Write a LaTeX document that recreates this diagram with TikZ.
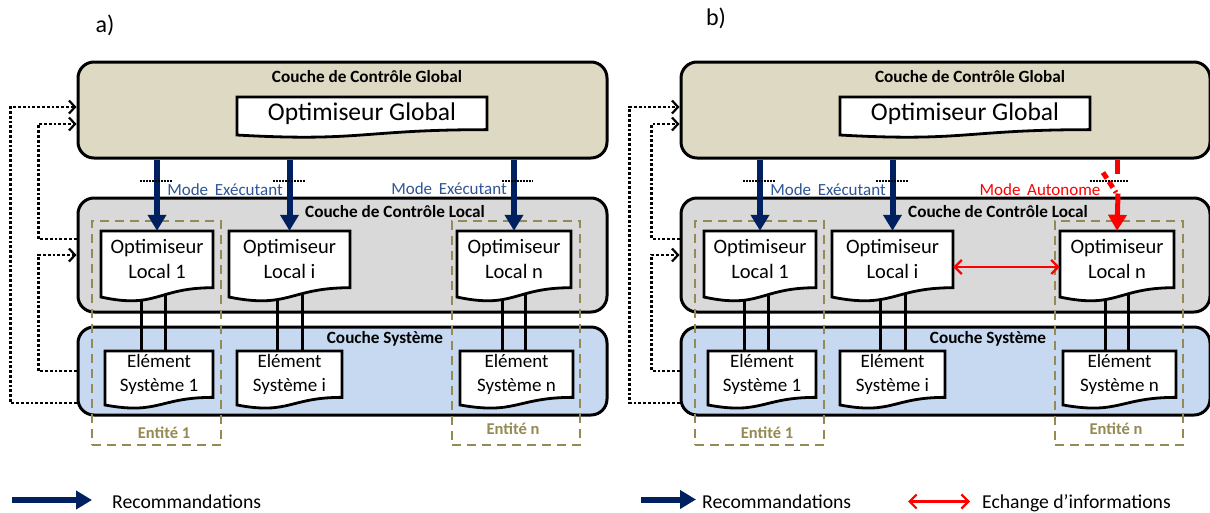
\documentclass[tikz,border=0pt]{standalone}
\usepackage{fontspec}
\setmainfont{Carlito}
\usetikzlibrary{arrows.meta,calc}
\definecolor{tanfill}{HTML}{DDD9C3}
\definecolor{grayfill}{HTML}{D9D9D9}
\definecolor{bluefill}{HTML}{C6D9F1}
\definecolor{navy}{HTML}{002060}
\definecolor{modeblue}{HTML}{2E5597}
\definecolor{olivec}{HTML}{948A54}
\pgfdeclarelayer{back}
\pgfdeclarelayer{mid}
\pgfsetlayers{back,mid,main}
\tikzset{
  layerbox/.style={draw, line width=3pt, rounded corners=16pt, minimum width=529pt, inner sep=0pt},
  ltitle/.style={font=\fontsize{17.2}{20}\selectfont\bfseries, inner sep=0pt, anchor=base},
  docshape/.style={draw, fill=white, line width=2.8pt, line join=miter},
  doctext/.style={inner sep=0pt, align=center},
  locfont/.style={font=\fontsize{20.5}{25}\selectfont},
  elfont/.style={font=\fontsize{19}{24}\selectfont},
  glfont/.style={font=\fontsize{25.5}{30}\selectfont},
  rec/.style={navy, line width=6pt, -{Triangle[length=16pt,width=18pt]}},
  fb/.style={line width=2.8pt, dash pattern=on 2.8pt off 2pt, -{Straight Barb[length=6pt,width=13pt,line width=2.2pt]}},
  ent/.style={draw=olivec, line width=2.5pt, dash pattern=on 9pt off 6pt, inner sep=0pt},
  entlabel/.style={text=olivec, font=\fontsize{16.5}{19}\selectfont\bfseries, inner sep=0pt, anchor=base},
  modelabel/.style={text=modeblue, font=\fontsize{17}{20}\selectfont, inner sep=0pt, anchor=base},
  shortdot/.style={line width=1.5pt, dash pattern=on 1.5pt off 1.5pt},
  link/.style={line width=3pt},
  xch/.style={red, line width=2.5pt, {Straight Barb[length=7pt,width=14pt,line width=2.2pt]}-{Straight Barb[length=7pt,width=14pt,line width=2.2pt]}},
  redbar/.style={red, line width=5pt},
  redrec/.style={red, line width=5pt, -{Triangle[length=16pt,width=18pt]}},
  legtext/.style={font=\fontsize{19.7}{23}\selectfont, inner sep=0pt, anchor=base west},
  panellabel/.style={font=\fontsize{24}{28}\selectfont, inner sep=0pt, anchor=base},
}
% name, x, y(top), w, h, style, text
\newcommand\docbox[7]{%
  \filldraw[docshape] (#2,#3) -- (#2+#4,#3) -- (#2+#4,#3+0.802*#5)
     .. controls (#2+0.5*#4,#3+0.802*#5) and (#2+0.5*#4,#3+1.107*#5) .. (#2,#3+0.934*#5) -- cycle;
  \node[doctext,#6, minimum width=#4pt, minimum height=0.8*#5pt] (#1) at (#2+0.5*#4,#3+0.4*#5) {#7};
}
\newcommand\panelbody[2]{%
  \begin{pgfonlayer}{back}
    \node[layerbox, fill=tanfill, minimum height=96pt] (glob) at (342.5,110) {};
    \node[layerbox, fill=grayfill, minimum height=114pt] (loc) at (342.5,255) {};
    \node[layerbox, fill=bluefill, minimum height=88pt] (sys) at (342.5,371) {};
  \end{pgfonlayer}
  \node[ltitle] (globt) at (367,82) {Couche de Contrôle Global};
  \node[ltitle] (loct) at (395,217) {Couche de Contrôle Local};
  \node[ltitle] (syst) at (385,343) {Couche Système};
  \docbox{og}{237}{97}{250}{40.7}{glfont}{Optimiseur Global}
  \docbox{ol1}{101}{231}{112}{70.7}{locfont}{Optimiseur\\Local 1}
  \docbox{oli}{229}{231}{121}{70.7}{locfont}{Optimiseur\\Local i}
  \docbox{oln}{457}{231}{114}{70.7}{locfont}{Optimiseur\\Local n}
  \docbox{el1}{105}{351}{108}{57.8}{elfont}{Elément\\Système 1}
  \docbox{eli}{237}{351}{105}{57.8}{elfont}{Elément\\Système i}
  \docbox{eln}{460}{351}{113}{57.8}{elfont}{Elément\\Système n}
  \begin{pgfonlayer}{mid}
    \node[ent, minimum width=129pt, minimum height=224pt] (ent1) at (156.5,333) {};
    \node[ent, minimum width=128pt, minimum height=224pt] (entn) at (516,333) {};
    \draw[link] ($(ol1.center)+(-16,0)$) -- ($(ol1.center |- el1.north)+(-16,0)$);
    \draw[link] ($(ol1.center)+(8,0)$) -- ($(ol1.center |- el1.north)+(8,0)$);
    \draw[link] ($(oli.center)+(-12.5,0)$) -- ($(oli.center |- eli.north)+(-12.5,0)$);
    \draw[link] ($(oli.center)+(12.5,0)$) -- ($(oli.center |- eli.north)+(12.5,0)$);
    \draw[link] ($(oln.center)+(-12,0)$) -- ($(oln.center |- eln.north)+(-12,0)$);
    \draw[link] ($(oln.center)+(11,0)$) -- ($(oln.center |- eln.north)+(11,0)$);
  \end{pgfonlayer}
  \node[entlabel] (ent1l) at (164,438) {Entité 1};
  \node[entlabel] (entnl) at (513,434) {Entité n};
  \draw[rec] (ol1.north |- glob.south) -- (ol1.north);
  \draw[rec] (oli.north |- glob.south) -- (oli.north);
  \draw[shortdot] (140,181) -- (172,181);
  \draw[shortdot] (273,181) -- (305,181);
  \node[modelabel] (mode1) at (225,195) {Mode\, Exécutant};
  \draw[fb] ([yshift=-32pt]sys.west) -- ++(#1,0) |- ([yshift=3pt]glob.west);
  \draw[fb] (sys.west) -- ++(#2,0) |- (loc.west);
  \draw[fb] ([yshift=16pt]loc.west) -- ++(#2,0) |- ([yshift=-14pt]glob.west);
}
\begin{document}
\begin{tikzpicture}[x=1pt,y=-1pt]
\useasboundingbox (0,0) rectangle (1210,512);
\node[panellabel] (pa) at (105,32) {a)};
\node[panellabel] (pb) at (716,25) {b)};
\begin{scope}[name prefix=a-]
  \panelbody{-66}{-38}
  \draw[rec] (oln.north |- glob.south) -- (oln.north);
  \draw[shortdot] (502,181) -- (533,181);
  \node[modelabel] (mode2) at (449,194) {Mode\, Exécutant};
\end{scope}
\begin{scope}[xshift=603pt, name prefix=b-]
  \panelbody{-50}{-28}
  \draw[redbar] (oln.north |- glob.south) -- ++(0,14);
  \draw[redbar, dash pattern=on 7pt off 4pt] ($(oln.north |- glob.south)+(-14,13)$) -- ++(13,20);
  \draw[redrec] ($(oln.north |- glob.south)+(1,34)$) -- (oln.north);
  \draw[shortdot] (487,181) -- (526,181);
  \node[modelabel, text=red] (mode3) at (437,195) {Mode\, Autonome};
  \draw[xch] ([yshift=-7.7pt]oli.east) -- ([yshift=-7.7pt]oln.west);
\end{scope}
\node[legtext] (leg1) at (112,508.5) {Recommandations};
\draw[rec] ($(leg1.base west)+(-100,-8.5)$) -- ($(leg1.base west)+(-20,-8.5)$);
\node[legtext] (leg2) at (702,508.5) {Recommandations};
\draw[rec] ($(leg2.base west)+(-61,-9)$) -- ($(leg2.base west)+(-6,-9)$);
\node[legtext] (leg3) at (982,508.5) {Echange d’informations};
\draw[xch] ($(leg3.base west)+(-74,-7)$) -- ($(leg3.base west)+(-12,-7)$);
\end{tikzpicture}
\end{document}
